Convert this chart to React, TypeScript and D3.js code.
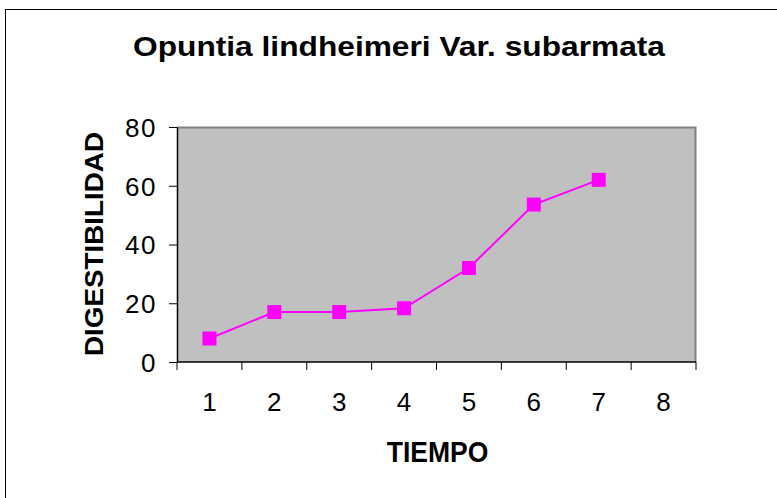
import React, { useRef, useEffect } from 'react';
import * as d3 from 'd3';

const categories = ['1', '2', '3', '4', '5', '6', '7', '8'];
const digestibilidad = [8, 17, 17, 18.3, 32, 53.6, 62];
const yTicks = [0, 20, 40, 60, 80];

const W = 777;
const H = 498;
const margin = { top: 127, right: 81, bottom: 136, left: 177 };
const FONT = 'Liberation Sans, Arial, sans-serif';

export default function App() {
  const svgRef = useRef<SVGSVGElement | null>(null);

  useEffect(() => {
    if (!svgRef.current) return;
    const svg = d3.select(svgRef.current);
    svg.selectAll('*').remove();

    const chartW = W - margin.left - margin.right;
    const chartH = H - margin.top - margin.bottom;

    // outer frame (runs off the right / bottom edge)
    svg.append('rect')
      .attr('x', 5.5).attr('y', 9.5)
      .attr('width', W + 10).attr('height', H + 10)
      .attr('fill', '#ffffff').attr('stroke', '#000000');

    svg.append('text')
      .attr('x', 133).attr('y', 55.5)
      .attr('font-family', FONT)
      .attr('font-weight', 'bold')
      .attr('font-size', 27)
      .attr('textLength', 532)
      .attr('lengthAdjust', 'spacingAndGlyphs')
      .text('Opuntia lindheimeri Var. subarmata');

    const g = svg.append('g').attr('transform', `translate(${margin.left},${margin.top})`);

    const x = d3.scaleBand().domain(categories).range([0, chartW]).padding(0);
    const y = d3.scaleLinear().domain([0, 80]).range([chartH, 0]);

    // plot area
    g.append('rect')
      .attr('width', chartW).attr('height', chartH)
      .attr('fill', '#c0c0c0');
    g.append('path')
      .attr('d', `M0,0.5H${chartW - 0.5}V${chartH}`)
      .attr('fill', 'none').attr('stroke', '#808080').attr('stroke-width', 2);

    // y axis
    const yAxis = g.append('g')
      .call(d3.axisLeft(y).tickValues(yTicks).tickSize(8).tickPadding(12).tickSizeOuter(0));
    yAxis.select('.domain').attr('stroke', '#000').attr('stroke-width', 1.5);
    yAxis.selectAll('.tick line').attr('stroke', '#000');
    yAxis.selectAll('.tick text')
      .attr('font-family', FONT)
      .attr('font-size', 26).attr('fill', '#000')
      .attr('letter-spacing', 1.5)
      .attr('dy', '0.36em');

    // x axis: ticks between categories
    const xAxis = g.append('g').attr('transform', `translate(0,${chartH})`);
    xAxis.append('line')
      .attr('x1', 0).attr('x2', chartW)
      .attr('stroke', '#000').attr('stroke-width', 1.5);
    const bounds = categories.map(c => x(c)!).concat([chartW]);
    xAxis.selectAll('line.tk')
      .data(bounds)
      .join('line')
      .attr('class', 'tk')
      .attr('x1', d => d).attr('x2', d => d)
      .attr('y1', 0).attr('y2', 8)
      .attr('stroke', '#000');
    xAxis.selectAll('text')
      .data(categories)
      .join('text')
      .attr('x', d => x(d)! + x.bandwidth() / 2)
      .attr('y', 49)
      .attr('text-anchor', 'middle')
      .attr('font-family', FONT)
      .attr('font-size', 26)
      .text(d => d);

    // axis titles
    g.append('text')
      .attr('x', chartW / 2 + 1 - 50.8).attr('y', chartH + 99.7)
      .attr('font-family', FONT)
      .attr('font-weight', 'bold').attr('font-size', 30)
      .attr('textLength', 101.6)
      .attr('lengthAdjust', 'spacingAndGlyphs')
      .text('TIEMPO');
    g.append('text')
      .attr('transform', `translate(-74,${chartH / 2 + 113 - 1.5}) rotate(-90)`)
      .attr('font-family', FONT)
      .attr('font-weight', 'bold').attr('font-size', 25.5)
      .attr('textLength', 224)
      .attr('lengthAdjust', 'spacingAndGlyphs')
      .text('DIGESTIBILIDAD');

    // series
    const pts = digestibilidad.map((v, i) => ({ c: categories[i], v }));
    const line = d3.line<{ c: string; v: number }>()
      .x(d => x(d.c)! + x.bandwidth() / 2)
      .y(d => y(d.v));
    g.append('path')
      .datum(pts)
      .attr('d', line)
      .attr('fill', 'none')
      .attr('stroke', '#ff00ff')
      .attr('stroke-width', 2);
    g.selectAll('rect.mk')
      .data(pts)
      .join('rect')
      .attr('class', 'mk')
      .attr('x', d => x(d.c)! + x.bandwidth() / 2 - 7)
      .attr('y', d => y(d.v) - 7)
      .attr('width', 14).attr('height', 14)
      .attr('fill', '#ff00ff');
  }, []);

  return (
    <svg
      ref={svgRef}
      width={W}
      height={H}
      style={{ position: 'fixed', left: 0, top: 0, display: 'block' }}
    />
  );
}
